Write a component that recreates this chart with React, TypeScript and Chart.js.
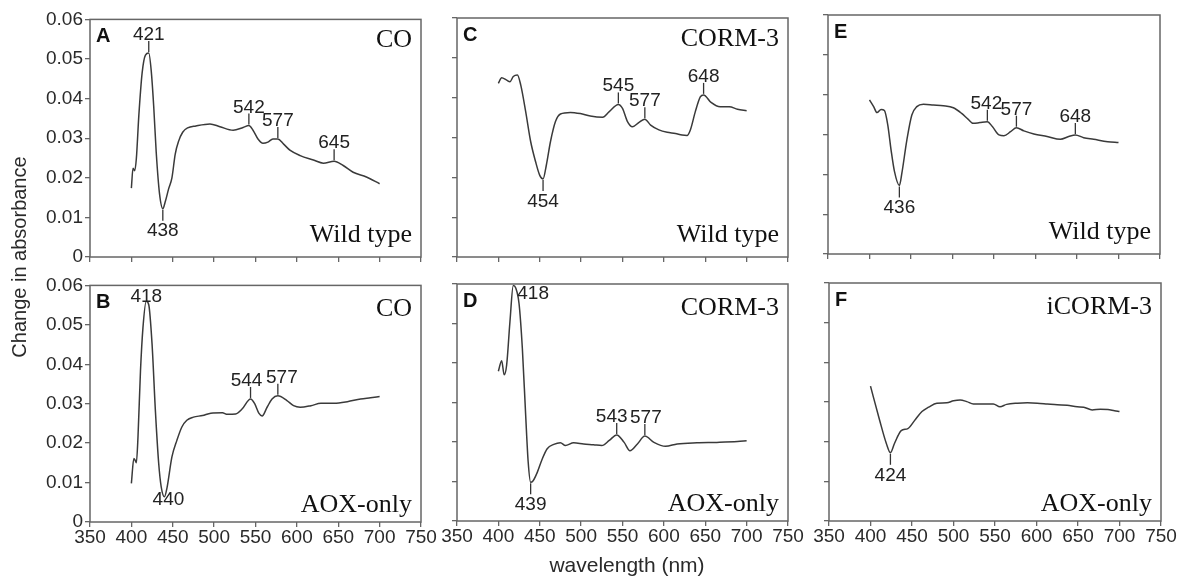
import React, { useEffect, useRef } from 'react';
import { Chart, registerables } from 'chart.js';
Chart.register(...registerables);

// ---------- DATA ----------
const X_TICKS = [350, 400, 450, 500, 550, 600, 650, 700, 750];
const Y_TICKS = [0, 0.01, 0.02, 0.03, 0.04, 0.05, 0.06];
const Y_TICK_LABELS = ['0', '0.01', '0.02', '0.03', '0.04', '0.05', '0.06'];

// Panel A: CO, wild type
const WL_A = [400, 402, 404, 406, 409, 413, 417, 421, 424, 427, 430, 434, 438, 441, 445, 449, 453, 457, 462, 468, 478, 495, 507, 523, 535, 542, 547, 553, 559, 565, 571, 577, 584, 592, 604, 620, 632, 645, 656, 668, 684, 700];
const ABS_A = [0.0174, 0.0224, 0.0218, 0.0248, 0.0357, 0.0465, 0.0510, 0.0515, 0.0470, 0.0380, 0.0265, 0.0160, 0.0122, 0.0140, 0.0172, 0.0200, 0.0260, 0.0292, 0.0315, 0.0326, 0.0331, 0.0336, 0.0329, 0.0320, 0.0327, 0.0332, 0.0320, 0.0298, 0.0287, 0.0290, 0.0298, 0.0298, 0.0285, 0.0269, 0.0256, 0.0245, 0.0237, 0.0242, 0.0231, 0.0214, 0.0202, 0.0185];
const PEAKS_A = [421, 438, 542, 577, 645];
const KINDS_A = ['max', 'min', 'max', 'max', 'max'];

// Panel B: CO, AOX-only
const WL_B = [400, 403, 404.5, 406, 408, 411, 414, 418, 421, 425, 429, 433, 436, 440, 443, 449, 455, 461, 467, 475, 486, 496, 510, 516, 526, 534, 544, 549, 554, 558, 564, 570, 577, 588, 596, 604, 617, 629, 645, 661, 677, 689, 700];
const ABS_B = [0.0098, 0.0161, 0.0157, 0.0150, 0.0216, 0.0383, 0.0493, 0.0560, 0.0551, 0.0451, 0.0283, 0.0149, 0.0090, 0.0064, 0.0086, 0.0165, 0.0207, 0.0241, 0.0258, 0.0266, 0.0270, 0.0276, 0.0277, 0.0273, 0.0274, 0.0287, 0.0312, 0.0300, 0.0276, 0.0269, 0.0291, 0.0312, 0.0320, 0.0308, 0.0295, 0.0291, 0.0295, 0.0301, 0.0301, 0.0305, 0.0312, 0.0315, 0.0318];
const PEAKS_B = [418, 440, 544, 577];
const KINDS_B = ['above', 'below', 'max', 'max'];

// Panel C: CORM-3, wild type
const WL_C = [400, 404, 410, 414, 418, 423, 427, 433, 439, 445, 450, 454, 458, 463, 469, 475, 487, 499, 511, 526, 534, 545, 550, 556, 562, 570, 577, 584, 594, 604, 614, 622, 628, 632, 638, 644, 648, 657, 668, 679, 689, 700];
const ABS_C = [0.0436, 0.0450, 0.0444, 0.0440, 0.0453, 0.0457, 0.0432, 0.0365, 0.0290, 0.0239, 0.0205, 0.0196, 0.0231, 0.0290, 0.0340, 0.0359, 0.0363, 0.0360, 0.0354, 0.0351, 0.0365, 0.0383, 0.0373, 0.0340, 0.0327, 0.0338, 0.0346, 0.0331, 0.0319, 0.0313, 0.0310, 0.0306, 0.0305, 0.0319, 0.0365, 0.0402, 0.0407, 0.0388, 0.0377, 0.0377, 0.0371, 0.0367];
const PEAKS_C = [454, 545, 577, 648];
const KINDS_C = ['min', 'max', 'max', 'max'];

// Panel D: CORM-3, AOX-only
const WL_D = [400, 404, 407, 410, 414, 418, 421, 425, 429, 433, 436, 439, 442, 447, 453, 459, 467, 475, 481, 491, 503, 515, 525, 534, 543, 552, 559, 568, 577, 588, 602, 616, 640, 664, 689, 700];
const ABS_D = [0.0379, 0.0406, 0.0370, 0.0395, 0.0505, 0.0596, 0.0590, 0.0550, 0.0436, 0.0267, 0.0150, 0.0098, 0.0102, 0.0123, 0.0157, 0.0183, 0.0194, 0.0198, 0.0191, 0.0198, 0.0195, 0.0193, 0.0191, 0.0204, 0.0218, 0.0199, 0.0178, 0.0195, 0.0215, 0.0199, 0.0189, 0.0195, 0.0198, 0.0199, 0.0201, 0.0203];
const PEAKS_D = [418, 439, 543, 577];
const KINDS_D = ['right', 'min', 'max', 'max'];

// Panel E: CORM-3, wild type
const WL_E = [400, 405, 409, 414, 418, 422, 426, 430, 436, 439, 445, 451, 457, 465, 477, 489, 501, 511, 519, 525, 533, 542, 548, 556, 562, 570, 577, 586, 598, 614, 630, 640, 648, 658, 670, 687, 700];
const ABS_E = [0.0387, 0.0370, 0.0355, 0.0363, 0.0360, 0.0324, 0.0261, 0.0208, 0.0172, 0.0203, 0.0286, 0.0349, 0.0370, 0.0376, 0.0374, 0.0372, 0.0367, 0.0353, 0.0338, 0.0328, 0.0330, 0.0332, 0.0320, 0.0299, 0.0297, 0.0307, 0.0317, 0.0309, 0.0301, 0.0295, 0.0288, 0.0295, 0.0299, 0.0292, 0.0288, 0.0282, 0.0280];
const PEAKS_E = [436, 542, 577, 648];
const KINDS_E = ['min', 'max', 'max', 'max'];

// Panel F: iCORM-3, AOX-only
const WL_F = [400, 411, 419, 424, 429, 437, 445, 453, 462, 470, 480, 492, 500, 508, 516, 524, 536, 548, 556, 564, 577, 589, 601, 613, 625, 637, 649, 657, 667, 677, 686, 694, 700];
const ABS_F = [0.0340, 0.0254, 0.0196, 0.0172, 0.0196, 0.0228, 0.0233, 0.0253, 0.0276, 0.0287, 0.0297, 0.0298, 0.0303, 0.0305, 0.0301, 0.0295, 0.0295, 0.0295, 0.0288, 0.0294, 0.0297, 0.0298, 0.0297, 0.0295, 0.0293, 0.0292, 0.0288, 0.0287, 0.0280, 0.0282, 0.0281, 0.0278, 0.0276];
const PEAKS_F = [424];
const KINDS_F = ['min'];

const X_TITLE = 'wavelength (nm)';
const Y_TITLE = 'Change in absorbance';

// ---------- STYLE / LAYOUT ----------
const SANS = '"Liberation Sans", Arial, Helvetica, sans-serif';
const SERIF = '"Liberation Serif", "Times New Roman", Times, serif';
const PAD_L = 70;
const PAD_T = 12;
const PAD_R = 25;
const Y_W = 50;
const X_H = 40;

const PANELS = [
  { letter: 'A', wl: WL_A, abs: ABS_A, peaks: PEAKS_A, kinds: KINDS_A, labelDx: [0, 0, 0, 0, 0], topText: 'CO', bottomText: 'Wild type', left: 90, top: 18, w: 331, h: 239, showX: false, showY: true, bottomRow: false },
  { letter: 'C', wl: WL_C, abs: ABS_C, peaks: PEAKS_C, kinds: KINDS_C, labelDx: [0, 0, 0, 0], topText: 'CORM-3', bottomText: 'Wild type', left: 457, top: 18, w: 331, h: 239, showX: false, showY: false, bottomRow: false },
  { letter: 'E', wl: WL_E, abs: ABS_E, peaks: PEAKS_E, kinds: KINDS_E, labelDx: [0, -1, 0, 0], topText: '', bottomText: 'Wild type', left: 828, top: 15, w: 332, h: 239, showX: false, showY: false, bottomRow: false },
  { letter: 'B', wl: WL_B, abs: ABS_B, peaks: PEAKS_B, kinds: KINDS_B, labelDx: [0, 0, -4, 4], topText: 'CO', bottomText: 'AOX-only', left: 90, top: 284, w: 331, h: 238, showX: true, showY: true, bottomRow: true },
  { letter: 'D', wl: WL_D, abs: ABS_D, peaks: PEAKS_D, kinds: KINDS_D, labelDx: [0, 0, -5, 1], topText: 'CORM-3', bottomText: 'AOX-only', left: 457, top: 284, w: 331, h: 237, showX: true, showY: false, bottomRow: true },
  { letter: 'F', wl: WL_F, abs: ABS_F, peaks: PEAKS_F, kinds: KINDS_F, labelDx: [0], topText: 'iCORM-3', bottomText: 'AOX-only', left: 829, top: 283, w: 332, h: 238, showX: true, showY: false, bottomRow: true },
];

function interp(xs: number[], ys: number[], x: number): number {
  for (let i = 0; i < xs.length - 1; i++) {
    if (x >= xs[i] && x <= xs[i + 1]) {
      const t = (x - xs[i]) / (xs[i + 1] - xs[i]);
      return ys[i] + t * (ys[i + 1] - ys[i]);
    }
  }
  return ys[ys.length - 1];
}

function makeDeco(cfg: any) {
  return {
    id: 'deco' + cfg.letter,
    afterDraw(chart: any) {
      const { ctx, chartArea: a, scales } = chart;
      const xs = scales.x;
      const ys = scales.y;
      ctx.save();
      // frame
      ctx.strokeStyle = '#666';
      ctx.lineWidth = 1.5;
      ctx.strokeRect(a.left, a.top, a.right - a.left, a.bottom - a.top);
      // panel letter
      ctx.fillStyle = '#111';
      ctx.font = `bold 20px ${SANS}`;
      ctx.textAlign = 'left';
      ctx.textBaseline = 'alphabetic';
      ctx.fillText(cfg.letter, a.left + 6, a.top + 23);
      // condition labels
      ctx.font = `26px ${SERIF}`;
      ctx.textAlign = 'right';
      if (cfg.topText) ctx.fillText(cfg.topText, a.right - 9, a.top + (cfg.bottomRow ? 31 : 28));
      ctx.fillText(cfg.bottomText, a.right - 9, a.bottom - (cfg.bottomRow ? 10 : 15));
      // peak annotations
      ctx.font = `19px ${SANS}`;
      ctx.fillStyle = '#222';
      ctx.strokeStyle = '#333';
      ctx.lineWidth = 1.3;
      cfg.peaks.forEach((p: number, i: number) => {
        const v = interp(cfg.wl, cfg.abs, p);
        const px = xs.getPixelForValue(p);
        const py = ys.getPixelForValue(v);
        const k = cfg.kinds[i];
        const dx = cfg.labelDx[i] || 0;
        const label = String(p);
        if (k === 'max') {
          ctx.beginPath();
          ctx.moveTo(px, py - 1);
          ctx.lineTo(px, py - 12);
          ctx.stroke();
          ctx.textAlign = 'center';
          ctx.textBaseline = 'alphabetic';
          ctx.fillText(label, px + dx, py - 13);
        } else if (k === 'min') {
          ctx.beginPath();
          ctx.moveTo(px, py + 1);
          ctx.lineTo(px, py + 12);
          ctx.stroke();
          ctx.textAlign = 'center';
          ctx.textBaseline = 'top';
          ctx.fillText(label, px + dx, py + 13);
        } else if (k === 'above') {
          ctx.textAlign = 'center';
          ctx.textBaseline = 'alphabetic';
          ctx.fillText(label, px + dx, py + 1);
        } else if (k === 'below') {
          ctx.textAlign = 'center';
          ctx.textBaseline = 'top';
          ctx.fillText(label, px + 4 + dx, py - 6);
        } else if (k === 'right') {
          ctx.textAlign = 'left';
          ctx.textBaseline = 'middle';
          ctx.fillText(label, px + 4 + dx, py + 8);
        }
      });
      ctx.restore();
    },
  };
}

function Panel({ cfg }: { cfg: any }) {
  const ref = useRef<HTMLCanvasElement>(null);
  const cw = cfg.w + PAD_L + PAD_R;
  const ch = cfg.h + PAD_T + X_H;
  useEffect(() => {
    const points = cfg.wl.map((x: number, i: number) => ({ x, y: cfg.abs[i] }));
    const chart = new Chart(ref.current as HTMLCanvasElement, {
      type: 'line',
      data: {
        datasets: [
          {
            data: points,
            borderColor: '#3a3a3a',
            borderWidth: 1.5,
            pointRadius: 0,
            fill: false,
            cubicInterpolationMode: 'monotone',
          } as any,
        ],
      },
      options: {
        animation: false,
        responsive: false,
        events: [],
        layout: { padding: { left: PAD_L - Y_W, top: PAD_T, right: PAD_R, bottom: 0 } },
        plugins: { legend: { display: false }, tooltip: { enabled: false }, title: { display: false } },
        scales: {
          x: {
            type: 'linear',
            min: 350,
            max: 750,
            afterBuildTicks: (s: any) => {
              s.ticks = X_TICKS.map((v) => ({ value: v }));
            },
            ticks: {
              display: cfg.showX,
              autoSkip: false,
              maxRotation: 0,
              padding: -1,
              color: '#2a2a2a',
              font: { family: SANS, size: 19 },
              callback: (v: any) => String(v),
            },
            grid: { display: true, drawOnChartArea: false, drawTicks: true, tickLength: 5, tickColor: '#666', lineWidth: 1.3 },
            border: { display: false },
            afterFit: (s: any) => {
              s.height = X_H;
            },
          },
          y: {
            type: 'linear',
            min: 0,
            max: 0.06,
            afterBuildTicks: (s: any) => {
              s.ticks = Y_TICKS.map((v) => ({ value: v }));
            },
            ticks: {
              display: cfg.showY,
              padding: 2,
              color: '#2a2a2a',
              font: { family: SANS, size: 19 },
              callback: (_v: any, i: number) => Y_TICK_LABELS[i],
            },
            grid: { display: true, drawOnChartArea: false, drawTicks: true, tickLength: 5, tickColor: '#666', lineWidth: 1.3 },
            border: { display: false },
            afterFit: (s: any) => {
              s.width = Y_W;
            },
          },
        },
      } as any,
      plugins: [makeDeco(cfg)],
    });
    return () => chart.destroy();
  }, []);
  return (
    <canvas
      ref={ref}
      width={cw}
      height={ch}
      style={{ position: 'absolute', left: cfg.left - PAD_L, top: cfg.top - PAD_T, width: cw, height: ch }}
    />
  );
}

export default function App() {
  return (
    <div style={{ position: 'fixed', left: 0, top: 0, width: 1195, height: 580, background: '#fff', overflow: 'hidden' }}>
      {PANELS.map((p) => (
        <Panel key={p.letter} cfg={p} />
      ))}
      <div
        style={{
          position: 'absolute',
          left: 527,
          top: 553,
          width: 200,
          height: 24,
          lineHeight: '24px',
          textAlign: 'center',
          fontFamily: SANS,
          fontSize: 21,
          color: '#2a2a2a',
          whiteSpace: 'nowrap',
        }}
      >
        {X_TITLE}
      </div>
      <div
        style={{
          position: 'absolute',
          left: 18.5 - 150,
          top: 257 - 12,
          width: 300,
          height: 24,
          lineHeight: '24px',
          textAlign: 'center',
          fontFamily: SANS,
          fontSize: 20,
          color: '#2a2a2a',
          whiteSpace: 'nowrap',
          transform: 'rotate(-90deg)',
        }}
      >
        {Y_TITLE}
      </div>
    </div>
  );
}
